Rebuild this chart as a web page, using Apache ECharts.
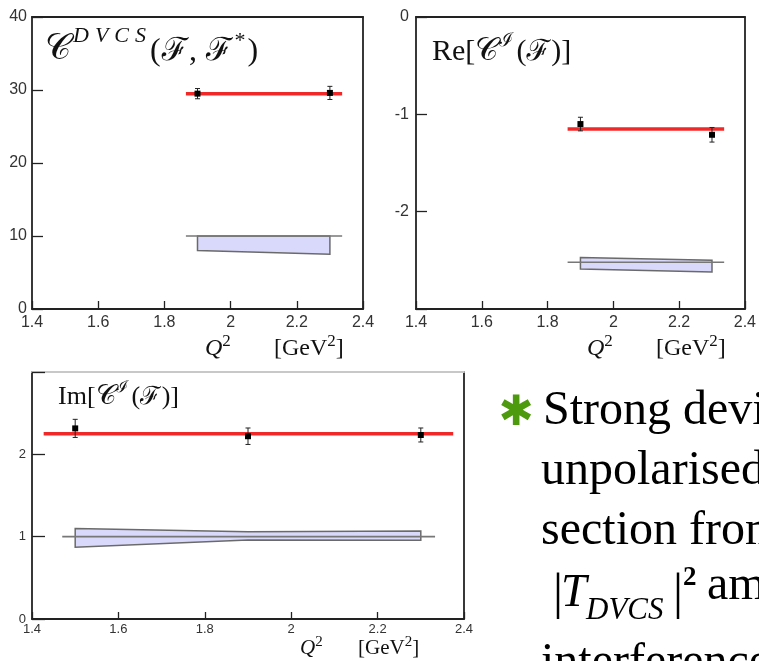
<!DOCTYPE html>
<html><head><meta charset="utf-8">
<script src="https://cdn.jsdelivr.net/npm/echarts@6/dist/echarts.min.js"></script>
<style>html,body{margin:0;padding:0;background:#fff}#c{width:759px;height:661px}</style>
</head><body><div id="c"></div>
<script>
// ---------------- DATA ----------------
const xTickValues = [1.4, 1.6, 1.8, 2, 2.2, 2.4];

// Panel A : C^DVCS(F,F*)
const dvcsQ2 = [1.9, 2.3];
const dvcsVal = [29.5, 29.6];
const dvcsErr = [0.7, 0.9];
const dvcsFitQ2 = [1.865, 2.337];
const dvcsFitVal = [29.5, 29.5];
const dvcsRefQ2 = [1.865, 2.337];
const dvcsRefVal = [10, 10];
const dvcsBandQ2 = [1.9, 2.3];
const dvcsBandHi = [10, 10];
const dvcsBandLo = [8.0, 7.5];

// Panel B : Re[C^I(F)]
const reQ2 = [1.9, 2.3];
const reVal = [-1.10, -1.21];
const reErr = [0.07, 0.075];
const reFitQ2 = [1.861, 2.337];
const reFitVal = [-1.15, -1.15];
const reRefQ2 = [1.861, 2.337];
const reRefVal = [-2.52, -2.52];
const reBandQ2 = [1.9, 2.3];
const reBandHi = [-2.47, -2.50];
const reBandLo = [-2.59, -2.62];

// Panel C : Im[C^I(F)]
const imQ2 = [1.5, 1.9, 2.3];
const imVal = [2.315, 2.22, 2.235];
const imErr = [0.11, 0.10, 0.085];
const imFitQ2 = [1.427, 2.375];
const imFitVal = [2.25, 2.25];
const imRefQ2 = [1.47, 2.333];
const imRefVal = [1.0, 1.0];
const imBandQ2 = [1.5, 1.9, 2.3];
const imBandHi = [1.10, 1.06, 1.07];
const imBandLo = [0.872, 0.96, 0.955];

// Text lines
const bulletLines = ['Strong deviation', 'unpolarised cross', 'section from', 'amplitude', 'interference'];

// ---------------- HELPERS ----------------
const SERIF = '"Liberation Serif","DejaVu Serif","Noto Sans",serif';
const SANS = '"Liberation Sans",Arial,sans-serif';
const mctx = document.createElement('canvas').getContext('2d');
function measure(t, s, it, b) {
  mctx.font = (it ? 'italic ' : 'normal ') + (b ? 'bold ' : 'normal ') + s + 'px ' + SERIF;
  return mctx.measureText(t).width;
}
const graphics = [];
function mathLine(x, baseline, frags, color) {
  let cx = x;
  frags.forEach(f => {
    cx += (f.dx || 0);
    graphics.push({
      type: 'text', x: cx, y: baseline - (f.rise || 0) - 0.34 * f.s, silent: true,
      style: {
        text: f.t, fill: color || '#111', fontSize: f.s, fontFamily: SERIF,
        fontStyle: f.i ? 'italic' : 'normal', fontWeight: f.b ? 'bold' : 'normal',
        align: 'left', verticalAlign: 'middle'
      }
    });
    cx += measure(f.t, f.s, f.i, f.b);
  });
  return cx;
}
function pairs(xs, ys) { return xs.map((x, i) => [x, ys[i]]); }
function triples(xs, ys, es) { return xs.map((x, i) => [x, ys[i], es[i]]); }

function errRender(params, api) {
  const x = api.value(0), y = api.value(1), e = api.value(2);
  const p = api.coord([x, y]), lo = api.coord([x, y - e]), hi = api.coord([x, y + e]);
  const cw = 2.5, st = { stroke: '#222', lineWidth: 1 };
  return {
    type: 'group', children: [
      { type: 'line', shape: { x1: p[0], y1: lo[1], x2: p[0], y2: hi[1] }, style: st },
      { type: 'line', shape: { x1: p[0] - cw, y1: lo[1], x2: p[0] + cw, y2: lo[1] }, style: st },
      { type: 'line', shape: { x1: p[0] - cw, y1: hi[1], x2: p[0] + cw, y2: hi[1] }, style: st },
      { type: 'rect', shape: { x: p[0] - 3, y: p[1] - 3, width: 6, height: 6 }, style: { fill: '#000' } }
    ]
  };
}
function bandRender(xs, lo, hi) {
  return function (params, api) {
    if (params.dataIndex !== 0) return null;
    const pts = [];
    xs.forEach((x, i) => pts.push(api.coord([x, hi[i]])));
    for (let i = xs.length - 1; i >= 0; i--) pts.push(api.coord([xs[i], lo[i]]));
    return { type: 'polygon', shape: { points: pts }, style: { fill: '#d9d9fb', stroke: '#6a6a6a', lineWidth: 1.5 } };
  };
}

const AX = '#222';
function xAxes(g, fs, margin, tickLen, topColor) {
  return [
    {
      gridIndex: g, type: 'value', min: 1.4, max: 2.4, interval: 0.2, position: 'bottom',
      axisLine: { show: true, onZero: false, lineStyle: { color: AX, width: 1.8 } },
      axisTick: { show: true, inside: true, length: tickLen, lineStyle: { color: AX, width: 1.3 } },
      axisLabel: { color: '#333', fontSize: fs, fontFamily: SANS, margin: margin,
        formatter: v => String(+(+v).toFixed(1)) },
      splitLine: { show: false }
    },
    {
      gridIndex: g, type: 'value', min: 1.4, max: 2.4, position: 'top',
      axisLine: { show: true, onZero: false, lineStyle: { color: topColor || AX, width: 1.8 } },
      axisTick: { show: false }, axisLabel: { show: false }, splitLine: { show: false }
    }
  ];
}
function yAxes(g, min, max, interval, fs, margin, tickLen, hide) {
  return [
    {
      gridIndex: g, type: 'value', min: min, max: max, interval: interval, position: 'left',
      axisLine: { show: true, onZero: false, lineStyle: { color: AX, width: 1.8 } },
      axisTick: { show: true, inside: true, length: tickLen, lineStyle: { color: AX, width: 1.3 } },
      axisLabel: { color: '#333', fontSize: fs, fontFamily: SANS, margin: margin,
        formatter: v => (hide.indexOf(v) >= 0 ? '' : String(v)) },
      splitLine: { show: false }
    },
    {
      gridIndex: g, type: 'value', min: min, max: max, position: 'right',
      axisLine: { show: true, onZero: false, lineStyle: { color: AX, width: 1.8 } },
      axisTick: { show: false }, axisLabel: { show: false }, splitLine: { show: false }
    }
  ];
}

function panelSeries(g, fitQ, fitV, refQ, refV, bQ, bLo, bHi, pQ, pV, pE) {
  const ax = { xAxisIndex: 2 * g, yAxisIndex: 2 * g };
  return [
    Object.assign({ type: 'custom', renderItem: bandRender(bQ, bLo, bHi),
      data: bQ.map((x, i) => [x, bLo[i], bHi[i]]), encode: { x: 0, y: [1, 2] }, z: 2, silent: true }, ax),
    Object.assign({ type: 'line', data: pairs(refQ, refV), showSymbol: false, symbol: 'none',
      lineStyle: { color: '#777', width: 1.6 }, z: 3, silent: true }, ax),
    Object.assign({ type: 'line', data: pairs(fitQ, fitV), showSymbol: false, symbol: 'none',
      lineStyle: { color: '#f02828', width: 3.5 }, z: 4, silent: true }, ax),
    Object.assign({ type: 'custom', renderItem: errRender, data: triples(pQ, pV, pE),
      encode: { x: 0, y: 1 }, z: 5, silent: true }, ax)
  ];
}

// ---------------- TEXT (titles, axis names, bullet) ----------------
function spaced(word, s, gap, rise) {
  return word.split('').map((ch, k) => ({ t: ch, s: s, i: true, rise: rise, dx: k ? gap : 0 }));
}
// Panel A title
let cx = mathLine(45, 62, [{ t: '𝒞', s: 36 }]);
cx = mathLine(cx + 2, 62, spaced('DVCS', 22, 6, 18));
mathLine(cx + 4, 62, [{ t: '(', s: 32 }, { t: 'ℱ', s: 32, dx: 1 }, { t: ',', s: 32, dx: 1 }, { t: 'ℱ', s: 32, dx: 9 }, { t: '*', s: 22, rise: 13, dx: 2 }, { t: ')', s: 32, dx: 2 }]);
// Panel B title
cx = mathLine(432, 62, [{ t: 'Re[', s: 30 }, { t: '𝒞', s: 32 }]);
cx = mathLine(cx + 1, 62, [{ t: 'ℐ', s: 19, i: true, rise: 15 }]);
mathLine(cx + 3, 62, [{ t: '(', s: 30 }, { t: 'ℱ', s: 29 }, { t: ')]', s: 30, dx: 1 }]);
// Panel C title
cx = mathLine(58, 406, [{ t: 'Im[', s: 26 }, { t: '𝒞', s: 28 }]);
cx = mathLine(cx + 1, 406, [{ t: 'ℐ', s: 16, i: true, rise: 13 }]);
mathLine(cx + 3, 406, [{ t: '(', s: 26 }, { t: 'ℱ', s: 25 }, { t: ')]', s: 26, dx: 1 }]);

// Axis names
function axisName(xq, xb, base, s) {
  mathLine(xq, base, [{ t: 'Q', s: s, i: true }, { t: '2', s: Math.round(s * 0.7), rise: s * 0.42 }]);
  mathLine(xb, base, [{ t: '[GeV', s: s }, { t: '2', s: Math.round(s * 0.7), rise: s * 0.42 }, { t: ']', s: s }]);
}
axisName(205, 274, 357, 24);
axisName(587, 656, 357, 24);
axisName(300, 358, 656, 21);

// Bullet text
graphics.push({ type: 'text', x: 516, y: 414, silent: true,
  style: { text: '✱', fill: '#4e9a0e', fontSize: 42, fontFamily: '"DejaVu Sans",sans-serif', align: 'center', verticalAlign: 'middle' } });
const BODY = 48;
mathLine(543, 428, [{ t: bulletLines[0], s: BODY }], '#000');
mathLine(541, 488, [{ t: bulletLines[1], s: BODY }], '#000');
mathLine(541, 548, [{ t: bulletLines[2], s: BODY }], '#000');
mathLine(553, 612, [{ t: '|', s: 50 }], '#000');
mathLine(561, 610, [{ t: 'T', s: 46, i: true }], '#000');
mathLine(586, 621, [{ t: 'DVCS', s: 31, i: true }], '#000');
mathLine(673, 612, [{ t: '|', s: 50 }], '#000');
mathLine(683, 610, [{ t: '2', s: 27, b: true, rise: 23 }], '#000');
mathLine(707, 603, [{ t: bulletLines[3], s: BODY }], '#000');
mathLine(541, 680, [{ t: bulletLines[4], s: BODY }], '#000');

// ---------------- CHART ----------------
const chart = echarts.init(document.getElementById('c'), null, { renderer: 'canvas' });
chart.setOption({
  animation: false,
  backgroundColor: '#fff',
  grid: [
    { left: 32, top: 17, width: 331, height: 292 },
    { left: 416, top: 17, width: 332, height: 292 },
    { left: 32, top: 372, width: 432, height: 247 }
  ],
  xAxis: [].concat(xAxes(0, 16, 6, 8), xAxes(1, 16, 6, 8), xAxes(2, 13, 4, 7, '#c8c8c8')),
  yAxis: [].concat(
    yAxes(0, 0, 40, 10, 16, 5, 11, []),
    yAxes(1, -3, 0, 1, 16, 7, 11, [-3]),
    yAxes(2, 0, 3, 1, 13, 6, 13, [3])
  ),
  series: [].concat(
    panelSeries(0, dvcsFitQ2, dvcsFitVal, dvcsRefQ2, dvcsRefVal, dvcsBandQ2, dvcsBandLo, dvcsBandHi, dvcsQ2, dvcsVal, dvcsErr),
    panelSeries(1, reFitQ2, reFitVal, reRefQ2, reRefVal, reBandQ2, reBandLo, reBandHi, reQ2, reVal, reErr),
    panelSeries(2, imFitQ2, imFitVal, imRefQ2, imRefVal, imBandQ2, imBandLo, imBandHi, imQ2, imVal, imErr)
  ),
  graphic: { elements: graphics }
});
</script></body></html>
